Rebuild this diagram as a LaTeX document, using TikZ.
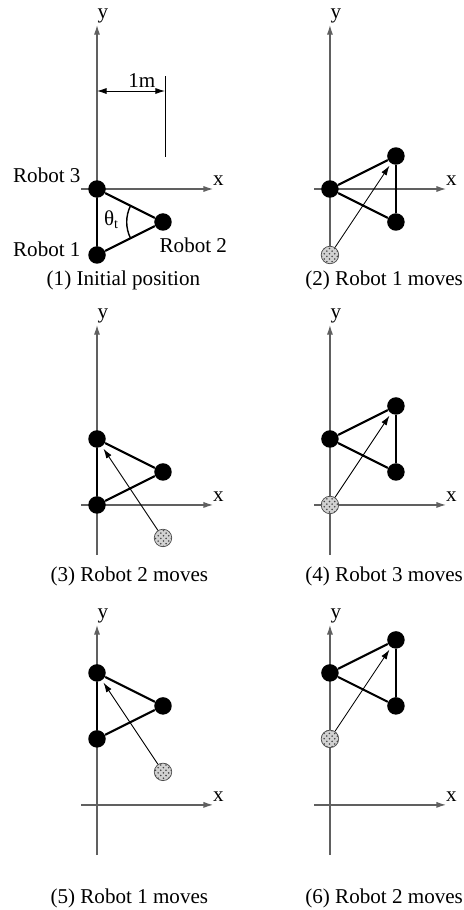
\documentclass[tikz,border=0pt]{standalone}
\usepackage{fontspec}
\setmainfont{Liberation Serif}
\usetikzlibrary{positioning,arrows.meta,patterns}

\begin{document}
\begin{tikzpicture}[x=1.32cm, y=1.32cm, >={Latex[length=5.5pt,width=3.5pt]}, font=\fontsize{12}{14}\selectfont]
            \tikzstyle{robot} = [circle, fill=black, inner sep=0pt, minimum size=0.35cm]
            \tikzstyle{ghost} = [circle, preaction={fill=gray!35}, pattern=crosshatch dots, pattern color=gray!55!black, draw=gray!60!black, line width=0.4pt, inner sep=0pt, minimum size=0.35cm]
            \tikzstyle{axis} = [->, draw=gray!75!black, line width=0.7pt]
            \tikzstyle{edge} = [line width=1.2pt]
            \tikzstyle{move} = [->, line width=0.5pt, shorten >=1.5pt]
            \tikzstyle{caption} = [inner sep=0pt]

            \useasboundingbox (0,0) rectangle (7.03,-13.79);

            % (1) initial position
            \begin{scope}[shift={(1.47,-2.864)}]
                \coordinate (ay1) at (0,2.485);
                \coordinate (ax1) at (1.76,0);
                \coordinate (ao1) at (-0.24,0);
                \coordinate (ab1) at (0,-1);
                \draw [axis] (ab1) to (ay1);
                \draw [axis] (ao1) to (ax1);
                \node (ya) at (0.09,2.62) {y};
                \node (xa) at (1.84,0.12) {x};

                \node [robot] (a3) at (0,0) {};
                \node [robot] (a2) at (1,-0.5) {};
                \node [robot] (a1) at (0,-1) {};
                \draw [edge] (a3) to (a2);
                \draw [edge] (a2) to (a1);
                \draw [edge] (a1) to (a3);

                \node (r3a) at (-0.76,0.21) {Robot 3};
                \node (r1a) at (-0.76,-0.92) {Robot 1};
                \node (r2a) at (1.46,-0.85) {Robot 2};

                \draw [line width=0.8pt] (a2.center) ++(153.4:0.55) arc (153.4:206.6:0.55);
                \node (th) at (0.22,-0.46) {θ\textsubscript{t}};

                % 1m scale
                \coordinate (m0) at (0,1.485);
                \coordinate (m1) at (1.03,1.485);
                \coordinate (t0) at (1.03,1.71);
                \coordinate (t1) at (1.03,0.485);
                \draw [<->, line width=0.5pt] (m0) to (m1);
                \draw [line width=0.5pt] (t0) to (t1);
                \node (one) at (0.68,1.64) {1m};

                \node [caption] (cap1) at (0.4,-1.38) {(1) Initial position};
            \end{scope}

            % (2) robot 1 moves
            \begin{scope}[shift={(5.0,-2.864)}]
                \coordinate (ay2) at (0,2.485);
                \coordinate (ax2) at (1.76,0);
                \coordinate (ao2) at (-0.24,0);
                \coordinate (ab2) at (0,-1);
                \draw [axis] (ab2) to (ay2);
                \draw [axis] (ao2) to (ax2);
                \node (yb) at (0.09,2.62) {y};
                \node (xb) at (1.84,0.12) {x};

                \node [ghost] (b0) at (0,-1) {};
                \node [robot] (b3) at (0,0) {};
                \node [robot] (b1) at (1,0.5) {};
                \node [robot] (b2) at (1,-0.5) {};
                \draw [edge] (b3) to (b1);
                \draw [edge] (b3) to (b2);
                \draw [edge] (b1) to (b2);
                \draw [move] (b0) to (b1);

                \node [caption, anchor=east] (cap2) at (2.02,-1.38) {(2) Robot 1 moves};
            \end{scope}

            % (3) robot 2 moves
            \begin{scope}[shift={(1.47,-7.652)}]
                \coordinate (ay3) at (0,2.727);
                \coordinate (ax3) at (1.76,0);
                \coordinate (ao3) at (-0.24,0);
                \coordinate (ab3) at (0,-0.76);
                \draw [axis] (ab3) to (ay3);
                \draw [axis] (ao3) to (ax3);
                \node (yc) at (0.09,2.86) {y};
                \node (xc) at (1.84,0.12) {x};

                \node [ghost] (c0) at (1,-0.5) {};
                \node [robot] (c2) at (0,1) {};
                \node [robot] (c1) at (1,0.5) {};
                \node [robot] (c3) at (0,0) {};
                \draw [edge] (c2) to (c1);
                \draw [edge] (c1) to (c3);
                \draw [edge] (c3) to (c2);
                \draw [move] (c0) to (c2);

                \node [caption] (cap3) at (0.49,-1.09) {(3) Robot 2 moves};
            \end{scope}

            % (4) robot 3 moves
            \begin{scope}[shift={(5.0,-7.652)}]
                \coordinate (ay4) at (0,2.727);
                \coordinate (ax4) at (1.76,0);
                \coordinate (ao4) at (-0.24,0);
                \coordinate (ab4) at (0,-0.76);
                \draw [axis] (ab4) to (ay4);
                \draw [axis] (ao4) to (ax4);
                \node (yd) at (0.09,2.86) {y};
                \node (xd) at (1.84,0.12) {x};

                \node [ghost] (d0) at (0,0) {};
                \node [robot] (d2) at (0,1) {};
                \node [robot] (d3) at (1,1.5) {};
                \node [robot] (d1) at (1,0.5) {};
                \draw [edge] (d2) to (d3);
                \draw [edge] (d2) to (d1);
                \draw [edge] (d3) to (d1);
                \draw [move] (d0) to (d3);

                \node [caption, anchor=east] (cap4) at (2.02,-1.09) {(4) Robot 3 moves};
            \end{scope}

            % (5) robot 1 moves
            \begin{scope}[shift={(1.47,-12.197)}]
                \coordinate (ay5) at (0,2.727);
                \coordinate (ax5) at (1.76,0);
                \coordinate (ao5) at (-0.24,0);
                \coordinate (ab5) at (0,-0.76);
                \draw [axis] (ab5) to (ay5);
                \draw [axis] (ao5) to (ax5);
                \node (ye) at (0.09,2.86) {y};
                \node (xe) at (1.84,0.12) {x};

                \node [ghost] (e0) at (1,0.5) {};
                \node [robot] (e1) at (0,2) {};
                \node [robot] (e3) at (1,1.5) {};
                \node [robot] (e2) at (0,1) {};
                \draw [edge] (e1) to (e3);
                \draw [edge] (e3) to (e2);
                \draw [edge] (e2) to (e1);
                \draw [move] (e0) to (e1);

                \node [caption] (cap5) at (0.49,-1.41) {(5) Robot 1 moves};
            \end{scope}

            % (6) robot 2 moves
            \begin{scope}[shift={(5.0,-12.197)}]
                \coordinate (ay6) at (0,2.727);
                \coordinate (ax6) at (1.76,0);
                \coordinate (ao6) at (-0.24,0);
                \coordinate (ab6) at (0,-0.76);
                \draw [axis] (ab6) to (ay6);
                \draw [axis] (ao6) to (ax6);
                \node (yf) at (0.09,2.86) {y};
                \node (xf) at (1.84,0.12) {x};

                \node [ghost] (f0) at (0,1) {};
                \node [robot] (f1) at (0,2) {};
                \node [robot] (f2) at (1,2.5) {};
                \node [robot] (f3) at (1,1.5) {};
                \draw [edge] (f1) to (f2);
                \draw [edge] (f1) to (f3);
                \draw [edge] (f2) to (f3);
                \draw [move] (f0) to (f2);

                \node [caption, anchor=east] (cap6) at (2.02,-1.41) {(6) Robot 2 moves};
            \end{scope}
        \end{tikzpicture}
\end{document}
